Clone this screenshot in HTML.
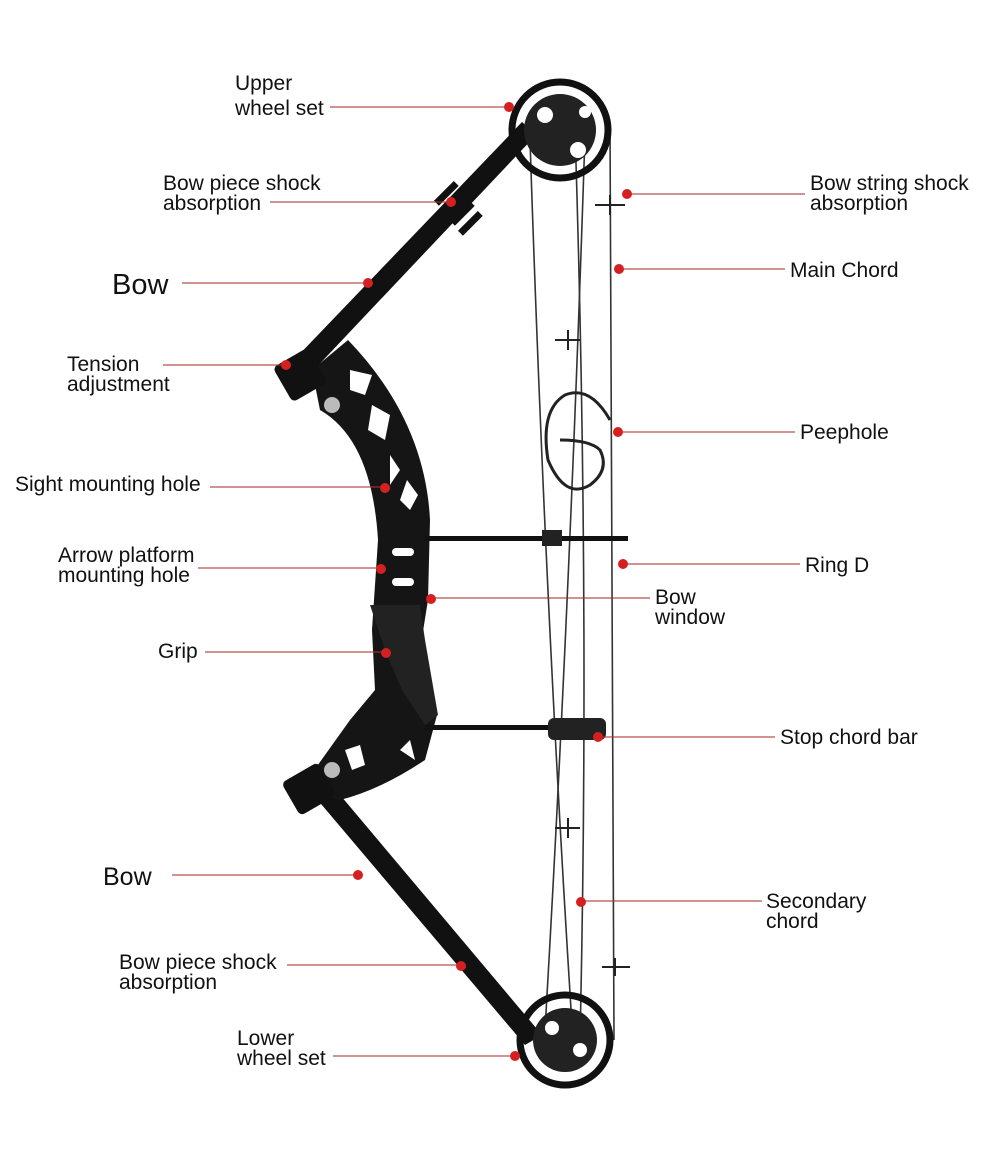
<!DOCTYPE html>
<html><head><meta charset="utf-8"><style>
body{margin:0;background:#fff}
svg{display:block}
text{font-family:"Liberation Sans",Arial,sans-serif;font-size:21px;fill:#111}
</style></head><body>
<svg width="1000" height="1150" viewBox="0 0 1000 1150" xmlns="http://www.w3.org/2000/svg">
<g stroke="#333" fill="none" stroke-width="1.6">
<path d="M610 125 L614 1040"/>
<path d="M530 140 Q545 600 572 1025"/>
<path d="M585 135 Q570 600 545 1030"/>
<path d="M575 130 Q590 600 580 1040"/>
</g>
<!-- upper limb -->
<path d="M292 362 L522 122 L536 135 L312 372 Z" fill="#111"/>
<g fill="#111"><rect x="432" y="190" width="28" height="7" transform="rotate(-45 446 193)"/>
<rect x="440" y="200" width="28" height="7" transform="rotate(-45 454 203)"/>
<rect x="448" y="210" width="28" height="7" transform="rotate(-45 462 213)"/>
<rect x="456" y="220" width="28" height="7" transform="rotate(-45 470 223)"/></g>
<circle cx="560" cy="130" r="48" fill="none" stroke="#111" stroke-width="7"/>
<circle cx="560" cy="130" r="36" fill="#222"/>
<circle cx="545" cy="115" r="8" fill="#fff"/><circle cx="578" cy="150" r="8" fill="#fff"/><circle cx="585" cy="112" r="6" fill="#fff"/>
<!-- lower limb -->
<path d="M305 785 L325 777 L542 1035 L525 1045 Z" fill="#111"/>
<g fill="#111"><rect x="443" y="945" width="28" height="7" transform="rotate(50 457 948)"/>
<rect x="451" y="955" width="28" height="7" transform="rotate(50 465 958)"/>
<rect x="459" y="965" width="28" height="7" transform="rotate(50 473 968)"/>
<rect x="467" y="975" width="28" height="7" transform="rotate(50 481 978)"/></g>
<circle cx="565" cy="1040" r="45" fill="none" stroke="#111" stroke-width="7"/>
<circle cx="565" cy="1040" r="32" fill="#222"/>
<circle cx="552" cy="1028" r="7" fill="#fff"/><circle cx="580" cy="1050" r="7" fill="#fff"/>
<!-- riser -->
<path d="M312 370 L348 340 Q425 420 430 520 L428 600 L420 650 L437 715 L425 760 Q380 790 340 800 L300 790 L350 720 L375 690 L372 630 L378 540 Q372 440 320 410 Z" fill="#151515"/>
<path d="M370 605 L420 605 L425 640 L438 715 L425 725 L402 690 L385 650 Z" fill="#222"/>
<rect x="280" y="355" width="40" height="40" rx="5" fill="#111" transform="rotate(-30 300 375)"/>
<rect x="288" y="770" width="42" height="38" rx="5" fill="#111" transform="rotate(-30 309 789)"/>
<circle cx="332" cy="405" r="8" fill="#bbb"/><circle cx="332" cy="770" r="8" fill="#bbb"/>
<g fill="#fff"><path d="M350 370 L372 375 L365 395 L350 390Z"/><path d="M372 405 L390 415 L385 440 L368 430Z"/><path d="M390 455 L400 470 L390 485Z"/>
<path d="M407 480 L418 495 L410 510 L400 500Z"/><rect x="392" y="548" width="22" height="8" rx="4"/><rect x="392" y="578" width="22" height="8" rx="4"/>
<path d="M345 750 L360 745 L365 765 L352 770Z"/><path d="M400 750 L410 740 L415 760Z"/></g>
<rect x="425" y="536" width="203" height="5" fill="#111"/>
<rect x="542" y="530" width="20" height="16" fill="#222"/>
<rect x="425" y="725" width="140" height="5" fill="#111"/>
<rect x="548" y="718" width="58" height="22" rx="6" fill="#222"/>
<path d="M610 420 Q590 385 565 395 Q540 410 548 460 Q565 500 590 485 Q610 470 600 450 Q590 440 560 440" fill="none" stroke="#222" stroke-width="3"/>
<g stroke="#222" stroke-width="2"><path d="M595 205 L625 205 M610 195 L610 215"/><path d="M555 340 L580 340 M568 330 L568 350"/><path d="M555 828 L580 828 M568 818 L568 838"/><path d="M602 967 L630 967 M615 958 L615 976"/></g>
<g stroke="#a33" stroke-width="1.2" opacity="0.85">
<path d="M330 107H508M270 202H450M182 283H368M163 365H285M210 487H385M198 568H380M432 598H650M205 652H385M600 737H775M172 875H357M582 901H762M287 965H460M333 1056H514M628 194H805M620 269H785M620 432H795M624 564H800"/>
</g>
<g fill="#d42020">
<circle cx="509" cy="107" r="5"/><circle cx="451" cy="202" r="5"/><circle cx="368" cy="283" r="5"/><circle cx="286" cy="365" r="5"/><circle cx="385" cy="488" r="5"/><circle cx="381" cy="569" r="5"/><circle cx="431" cy="599" r="5"/><circle cx="386" cy="653" r="5"/><circle cx="598" cy="737" r="5"/><circle cx="358" cy="875" r="5"/><circle cx="581" cy="902" r="5"/><circle cx="461" cy="966" r="5"/><circle cx="515" cy="1056" r="5"/><circle cx="627" cy="194" r="5"/><circle cx="619" cy="269" r="5"/><circle cx="618" cy="432" r="5"/><circle cx="623" cy="564" r="5"/>
</g>
<text x="235" y="90">Upper</text><text x="235" y="115">wheel set</text>
<text x="163" y="190">Bow piece shock</text><text x="163" y="210">absorption</text>
<text x="112" y="294" style="font-size:29px">Bow</text>
<text x="67" y="371">Tension</text><text x="67" y="391">adjustment</text>
<text x="15" y="491">Sight mounting hole</text>
<text x="58" y="562">Arrow platform</text><text x="58" y="582">mounting hole</text>
<text x="655" y="604">Bow</text><text x="655" y="624">window</text>
<text x="158" y="658">Grip</text>
<text x="780" y="744">Stop chord bar</text>
<text x="103" y="885" style="font-size:25px">Bow</text>
<text x="766" y="908">Secondary</text><text x="766" y="928">chord</text>
<text x="119" y="969">Bow piece shock</text><text x="119" y="989">absorption</text>
<text x="237" y="1045">Lower</text><text x="237" y="1065">wheel set</text>
<text x="810" y="190">Bow string shock</text><text x="810" y="210">absorption</text>
<text x="790" y="277">Main Chord</text>
<text x="800" y="439">Peephole</text>
<text x="805" y="572">Ring D</text>
</svg>
</body></html>
